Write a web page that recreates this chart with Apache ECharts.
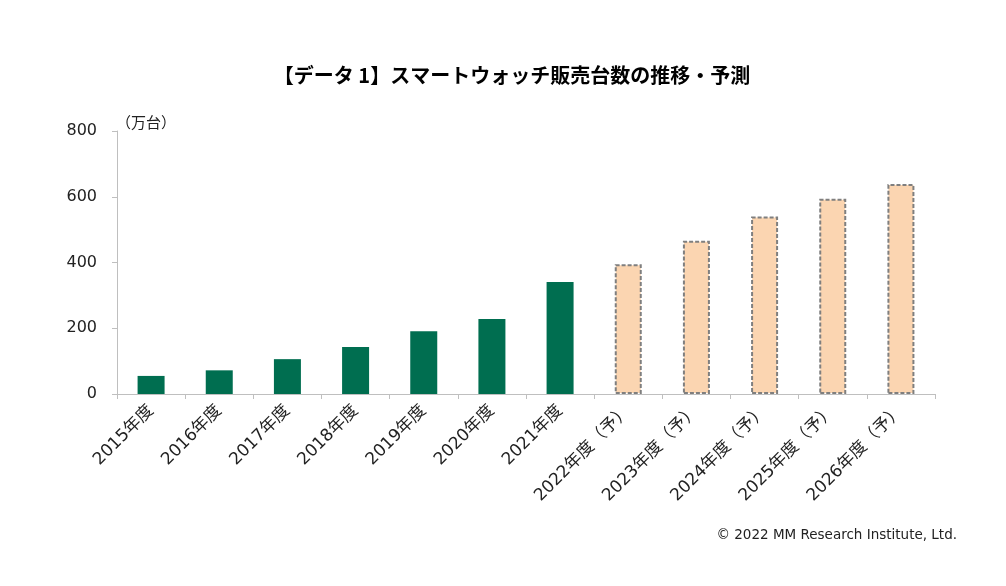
<!DOCTYPE html>
<html><head><meta charset="utf-8">
<script src="https://cdn.jsdelivr.net/npm/echarts@6/dist/echarts.min.js"></script>
<style>html,body{margin:0;padding:0;background:#fff}#c{width:1006px;height:586px}</style>
</head><body><div id="c"></div>
<script>
const categories = ['2015年度','2016年度','2017年度','2018年度','2019年度','2020年度','2021年度','2022年度（予）','2023年度（予）','2024年度（予）','2025年度（予）','2026年度（予）'];
const actualValues = [55, 72, 106, 143, 191, 228, 341];
const forecastValues = [395, 466, 540, 594, 639];
const yTicks = [0, 200, 400, 600, 800];

const actualData = actualValues.concat(forecastValues.map(() => null));
const forecastData = actualValues.map(() => null).concat(forecastValues);
const cjk = '"Noto Sans CJK JP", sans-serif';
const mixed = '"DejaVu Sans", "Noto Sans CJK JP", sans-serif';

const chart = echarts.init(document.getElementById('c'));
chart.setOption({
  animation: false,
  title: {
    text: '【データ 1】スマートウォッチ販売台数の推移・予測',
    left: 507, top: 60, textAlign: 'center',
    textStyle: { fontFamily: cjk, fontSize: 20, fontWeight: 'bold', color: '#000' }
  },
  graphic: [
    { type: 'text', left: 116, top: 115, style: { text: '（万台）', font: '15px ' + cjk, fill: '#222' } },
    { type: 'text', right: 49, top: 528, style: { text: '© 2022 MM Research Institute, Ltd.', font: '13.5px "DejaVu Sans", sans-serif', fill: '#222' } }
  ],
  grid: { left: 117, right: 71, top: 131, bottom: 192 },
  xAxis: {
    type: 'category', data: categories,
    axisLine: { lineStyle: { color: '#BFBFBF', width: 1 } },
    axisTick: { show: true, length: 5, lineStyle: { color: '#BFBFBF' } },
    axisLabel: { rotate: 45, interval: 0, fontFamily: mixed, fontSize: 17, color: '#222', margin: 14 }
  },
  yAxis: {
    type: 'value', min: yTicks[0], max: yTicks[yTicks.length - 1], interval: 200,
    axisLine: { show: true, lineStyle: { color: '#BFBFBF' } },
    axisTick: { show: true, length: 5, lineStyle: { color: '#BFBFBF' } },
    splitLine: { show: false },
    axisLabel: { fontFamily: '"DejaVu Sans", sans-serif', fontSize: 16, color: '#222', margin: 20 }
  },
  series: [
    { type: 'bar', data: actualData, barWidth: 27, barGap: '-100%',
      itemStyle: { color: '#006E50' } },
    { type: 'bar', data: forecastData, barWidth: 27,
      itemStyle: { color: '#FBD5B1', borderColor: '#7F7F7F', borderWidth: 2, borderType: [4, 2] } }
  ]
});
</script></body></html>
